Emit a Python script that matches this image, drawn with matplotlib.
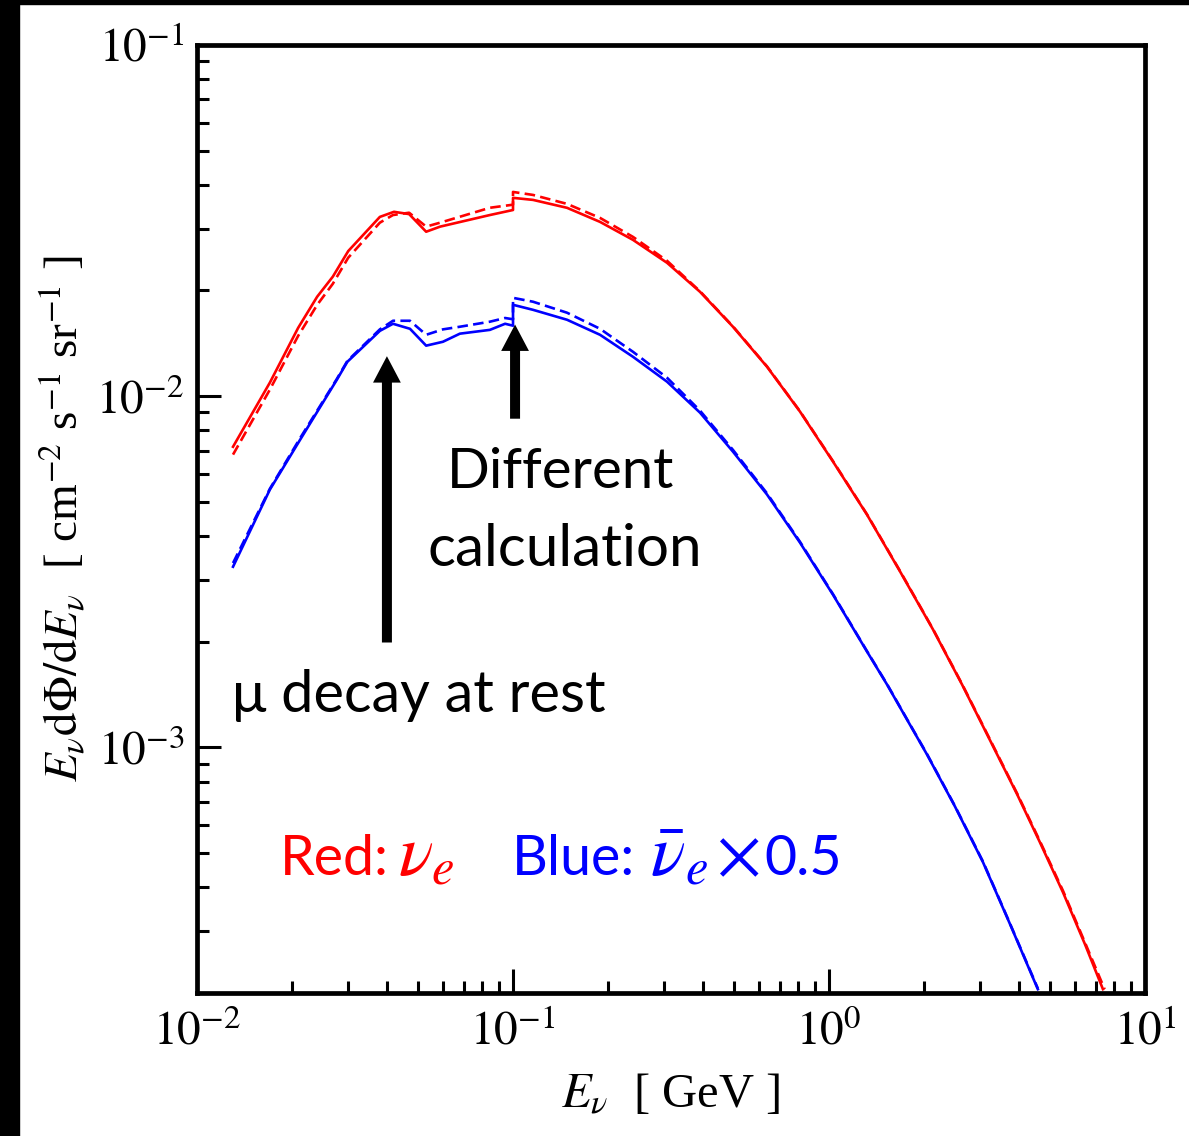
import numpy as np
import matplotlib
matplotlib.use("Agg")
import matplotlib.pyplot as plt
from matplotlib.patches import Rectangle
from matplotlib.ticker import FixedLocator, FixedFormatter, LogLocator, NullFormatter

plt.rcParams['mathtext.fontset'] = 'stix'
plt.rcParams['font.family'] = ['Liberation Serif', 'DejaVu Serif']

# energies [GeV] and fluxes
e_red = [0.0130, 0.0170, 0.0209, 0.0240, 0.0269, 0.0301, 0.0379, 0.0420, 0.0469, 0.0531,
         0.0588, 0.0845, 0.1, 0.1, 0.1157, 0.1482, 0.1885, 0.2397, 0.3072, 0.3906, 0.4969,
         0.6365, 0.8095, 1.030, 1.319, 1.678, 2.134, 2.636, 3.07, 3.94, 4.65, 5.50, 6.46, 7.36]
red_solid = [7.18e-3, 1.093e-2, 1.566e-2, 1.92e-2, 2.19e-2, 2.59e-2, 3.24e-2, 3.35e-2, 3.30e-2,
             2.94e-2, 3.04e-2, 3.28e-2, 3.39e-2, 3.671e-2, 3.622e-2, 3.439e-2, 3.136e-2,
             2.787e-2, 2.398e-2, 1.983e-2, 1.576e-2, 1.213e-2, 9.04e-3, 6.51e-3, 4.60e-3,
             3.17e-3, 2.166e-3, 1.511e-3, 1.15e-3, 7.35e-4, 5.37e-4, 3.87e-4, 2.75e-4, 2.05e-4]

e_red_d = [0.0130, 0.0170, 0.0209, 0.0240, 0.0269, 0.0301, 0.0379, 0.0417, 0.0469, 0.0531,
           0.0588, 0.0845, 0.1, 0.1, 0.1157, 0.1482, 0.1885, 0.2397, 0.3072, 0.3906, 0.4969,
           0.6365, 0.8095, 1.030, 1.319, 1.678, 2.134, 2.636, 3.07, 3.94, 4.65, 5.50, 6.46, 7.45]
red_dash = [6.82e-3, 1.044e-2, 1.486e-2, 1.82e-2, 2.09e-2, 2.48e-2, 3.12e-2, 3.28e-2, 3.33e-2,
            3.04e-2, 3.12e-2, 3.44e-2, 3.51e-2, 3.816e-2, 3.742e-2, 3.529e-2, 3.219e-2,
            2.842e-2, 2.430e-2, 1.990e-2, 1.580e-2, 1.216e-2, 9.06e-3, 6.53e-3, 4.61e-3,
            3.18e-3, 2.172e-3, 1.516e-3, 1.155e-3, 7.39e-4, 5.41e-4, 3.91e-4, 2.78e-4, 2.05e-4]

e_blue = [0.0130, 0.0170, 0.0212, 0.0277, 0.0299, 0.0379, 0.0417, 0.0472, 0.0531, 0.0600,
          0.0679, 0.0845, 0.0944, 0.1, 0.1, 0.1157, 0.1482, 0.1885, 0.2397, 0.3072, 0.3906,
          0.4969, 0.6365, 0.8095, 1.030, 1.319, 1.526, 1.765, 2.042, 2.504, 3.072, 3.74, 4.58]
blue_solid = [3.27e-3, 5.42e-3, 7.52e-3, 1.114e-2, 1.253e-2, 1.535e-2, 1.608e-2, 1.556e-2,
              1.393e-2, 1.429e-2, 1.507e-2, 1.545e-2, 1.608e-2, 1.588e-2, 1.821e-2, 1.762e-2,
              1.651e-2, 1.496e-2, 1.295e-2, 1.100e-2, 8.98e-3, 6.95e-3, 5.25e-3, 3.83e-3,
              2.72e-3, 1.875e-3, 1.511e-3, 1.201e-3, 9.55e-4, 6.79e-4, 4.71e-4, 3.14e-4, 2.05e-4]
blue_dash = [3.35e-3, 5.45e-3, 7.6e-3, 1.12e-2, 1.26e-2, 1.55e-2, 1.64e-2, 1.64e-2,
             1.496e-2, 1.55e-2, 1.577e-2, 1.63e-2, 1.67e-2, 1.656e-2, 1.906e-2, 1.858e-2,
             1.729e-2, 1.556e-2, 1.338e-2, 1.129e-2, 9.10e-3, 7.03e-3, 5.29e-3, 3.85e-3,
             2.73e-3, 1.88e-3, 1.515e-3, 1.204e-3, 9.58e-4, 6.81e-4, 4.73e-4, 3.15e-4, 2.06e-4]

# arrows: (x, y_tail, y_tip)
arrow_mu = (0.0399, 1.99e-3, 1.30e-2)
arrow_calc = (0.1015, 8.63e-3, 1.60e-2)

xticks = [1e-2, 1e-1, 1e0, 1e1]
xticklabels = [r'$10^{-2}$', r'$10^{-1}$', r'$10^{0}$', r'$10^{1}$']
yticks = [1e-3, 1e-2, 1e-1]
yticklabels = [r'$10^{-3}$', r'$10^{-2}$', r'$10^{-1}$']

fig = plt.figure(figsize=(11.89, 11.36), dpi=100)
ax = fig.add_axes([0.1657, 0.1259, 0.7973, 0.8345])

ax.plot(e_red, red_solid, color='#ff0000', lw=1.9)
ax.plot(e_red_d, red_dash, color='#ff0000', lw=1.9, dashes=(4, 2))
ax.plot(e_blue, blue_solid, color='#0000ff', lw=1.9)
ax.plot(e_blue, blue_dash, color='#0000ff', lw=1.9, dashes=(4, 2))

ax.set_xscale('log')
ax.set_yscale('log')
ax.set_xlim(1e-2, 1e1)
ax.set_ylim(2e-4, 1e-1)

ax.xaxis.set_major_locator(FixedLocator(xticks))
ax.xaxis.set_major_formatter(FixedFormatter(xticklabels))
ax.yaxis.set_major_locator(FixedLocator(yticks))
ax.yaxis.set_major_formatter(FixedFormatter(yticklabels))
ax.xaxis.set_minor_locator(LogLocator(base=10, subs=np.arange(2, 10), numticks=20))
ax.yaxis.set_minor_locator(LogLocator(base=10, subs=np.arange(2, 10), numticks=20))
ax.xaxis.set_minor_formatter(NullFormatter())
ax.yaxis.set_minor_formatter(NullFormatter())

ax.tick_params(which='both', direction='in', top=False, right=False, width=2.2)
ax.tick_params(which='major', length=17, labelsize=34)
ax.tick_params(axis='x', which='major', pad=13)
ax.tick_params(axis='y', which='major', pad=9)
ax.tick_params(which='minor', length=8.5)
for s in ax.spines.values():
    s.set_linewidth(3.4)

ax.set_xlabel(r'$E_{\nu}$  [ GeV ]', fontsize=35, labelpad=12)
ax.set_ylabel(r'$E_{\nu}\mathrm{d}\Phi/\mathrm{d}E_{\nu}$  [ cm$^{-2}$ s$^{-1}$ sr$^{-1}$ ]',
              fontsize=34, labelpad=6)

# annotations
for x, y0, y1 in [arrow_mu, arrow_calc]:
    ax.annotate('', xy=(x, y1), xytext=(x, y0),
                arrowprops=dict(arrowstyle='simple,head_length=0.95,head_width=1.0,tail_width=0.36',
                                mutation_scale=20, color='black', shrinkA=0, shrinkB=0, lw=0))

sans = ['Lato', 'DejaVu Sans']
tr = ax.transAxes
ax.text(0.383, 0.533, 'Different', transform=tr, ha='center', va='baseline',
        fontsize=40.5, family=sans)
ax.text(0.388, 0.4504, 'calculation', transform=tr, ha='center', va='baseline',
        fontsize=42, family=sans)
ax.text(0.037, 0.2964, 'μ decay at rest', transform=tr, ha='left', va='baseline',
        fontsize=41.5, family=sans)

red, blue = '#ff0000', '#0000ff'
ax.text(0.0876, 0.1245, 'Red:', transform=tr, ha='left', va='baseline',
        fontsize=40, family=sans, color=red)
ax.text(0.212, 0.1245, r'$\nu_e$', transform=tr, ha='left', va='baseline',
        fontsize=52, color=red)
ax.text(0.332, 0.1245, 'Blue:', transform=tr, ha='left', va='baseline',
        fontsize=40, family=sans, color=blue)
ax.text(0.478, 0.1245, r'$\bar{\nu}_e$', transform=tr, ha='left', va='baseline',
        fontsize=52, color=blue)
ax.text(0.547, 0.1245, r'$\times$', transform=tr, ha='left', va='baseline',
        fontsize=50, color=blue)
ax.text(0.599, 0.1245, '0.5', transform=tr, ha='left', va='baseline',
        fontsize=40, family=sans, color=blue)

# black frame strips at the left and top edges of the picture
fig.patches.append(Rectangle((0, 0), 19 / 1189, 1, transform=fig.transFigure,
                             color='black', zorder=10))
fig.patches.append(Rectangle((0, 1 - 4 / 1136), 1, 4 / 1136, transform=fig.transFigure,
                             color='black', zorder=10))

fig.savefig('out.png', dpi=100)
